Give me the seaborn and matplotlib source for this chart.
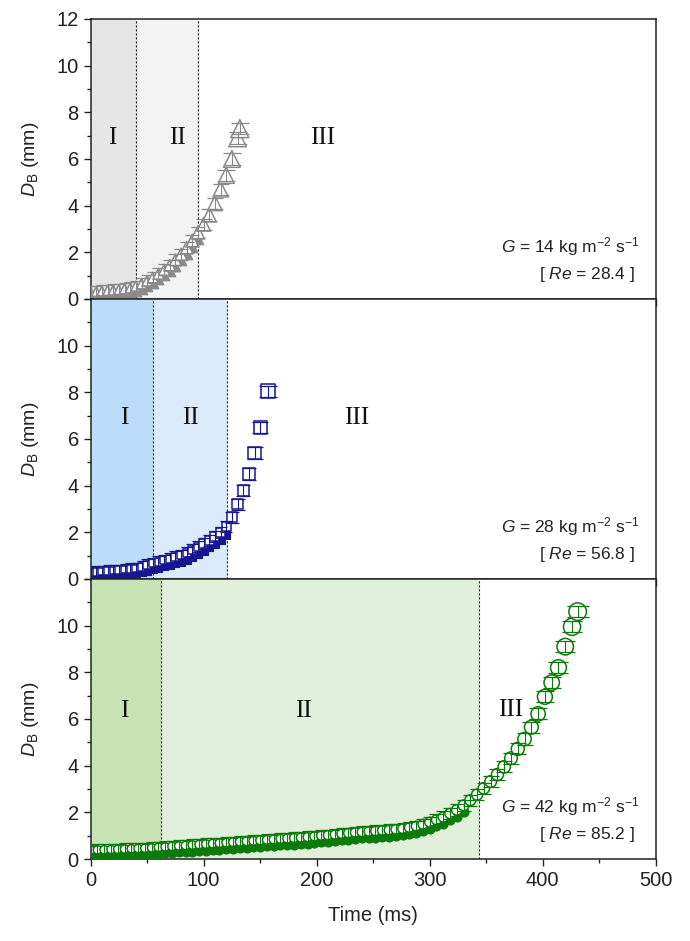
import matplotlib
matplotlib.use("Agg")
import matplotlib.pyplot as plt
import seaborn as sns
import pandas as pd
from matplotlib.ticker import MultipleLocator

sns.set_theme(style="ticks")
plt.rcParams["font.family"] = ["Liberation Sans", "DejaVu Sans"]
plt.rcParams["mathtext.fontset"] = "custom"
plt.rcParams["mathtext.rm"] = "Liberation Sans"
plt.rcParams["mathtext.it"] = "Liberation Sans:italic"
plt.rcParams["mathtext.bf"] = "Liberation Sans:bold"

# ---------------- data ----------------
# Panel 1: G = 14 (grey triangles)
t14 = [0, 5, 10, 15, 20, 25, 30, 35, 40, 45, 50, 55, 60, 65, 70, 75, 80, 85, 90, 95,
       100, 105, 110, 115, 120, 125, 130, 132]
d14 = [0.30, 0.32, 0.34, 0.36, 0.38, 0.40, 0.43, 0.47, 0.55, 0.65, 0.78, 0.92, 1.08, 1.25,
       1.45, 1.68, 1.92, 2.20, 2.50, 2.85, 3.20, 3.60, 4.10, 4.70, 5.30, 6.00, 6.90, 7.30]
t14_low = [0, 5, 10, 15, 20, 25, 30, 35, 40, 45, 50, 55, 60, 65, 70, 75, 80, 85, 90, 95]
d14_low = [0.10, 0.11, 0.12, 0.14, 0.16, 0.18, 0.21, 0.25, 0.32, 0.42, 0.55, 0.69, 0.85,
           1.02, 1.21, 1.43, 1.66, 1.93, 2.22, 2.55]

# Panel 2: G = 28 (blue squares)
t28 = [0, 5, 10, 15, 20, 25, 30, 35, 40, 45, 50, 55, 60, 65, 70, 75, 80, 85, 90, 95,
       100, 105, 110, 115, 120, 125, 130, 135, 140, 145, 150, 157]
d28 = [0.28, 0.30, 0.32, 0.34, 0.36, 0.38, 0.40, 0.43, 0.46, 0.52, 0.60, 0.68, 0.74, 0.80,
       0.87, 0.95, 1.02, 1.12, 1.24, 1.38, 1.52, 1.66, 1.82, 1.98, 2.25, 2.65, 3.20, 3.80,
       4.50, 5.40, 6.50, 8.05]
t28_low = [0, 5, 10, 15, 20, 25, 30, 35, 40, 45, 50, 55, 60, 65, 70, 75, 80, 85, 90, 95,
           100, 105, 110, 115, 120]
d28_low = [0.08, 0.10, 0.12, 0.14, 0.16, 0.18, 0.20, 0.22, 0.25, 0.29, 0.35, 0.42, 0.48,
           0.54, 0.60, 0.67, 0.74, 0.83, 0.94, 1.07, 1.21, 1.35, 1.51, 1.68, 1.90]

# Panel 3: G = 42 (green circles)
t42 = [0, 6, 12, 18, 24, 30, 36, 42, 48, 54, 60, 66, 72, 78, 84, 90, 96, 102, 108, 114,
       120, 126, 132, 138, 144, 150, 156, 162, 168, 174, 180, 186, 192, 198, 204, 210,
       216, 222, 228, 234, 240, 246, 252, 258, 264, 270, 276, 282, 288, 294, 300, 306,
       312, 318, 324, 330, 336, 342, 348, 354, 360, 366, 372, 378, 384, 390, 396, 402,
       408, 414, 420, 426, 431]
d42 = [0.38, 0.39, 0.40, 0.41, 0.42, 0.43, 0.44, 0.45, 0.46, 0.48, 0.50, 0.52, 0.54, 0.56,
       0.58, 0.60, 0.62, 0.64, 0.66, 0.68, 0.70, 0.72, 0.74, 0.76, 0.78, 0.80, 0.82, 0.84,
       0.86, 0.88, 0.90, 0.92, 0.94, 0.97, 1.00, 1.02, 1.05, 1.08, 1.11, 1.14, 1.16, 1.18,
       1.20, 1.22, 1.24, 1.27, 1.30, 1.35, 1.41, 1.49, 1.58, 1.68, 1.80, 1.95, 2.10, 2.30,
       2.52, 2.76, 3.03, 3.32, 3.62, 3.95, 4.32, 4.72, 5.14, 5.65, 6.22, 6.95, 7.56, 8.20,
       9.10, 9.95, 10.60]
t42_low = [0, 6, 12, 18, 24, 30, 36, 42, 48, 54, 60, 66, 72, 78, 84, 90, 96, 102, 108, 114,
           120, 126, 132, 138, 144, 150, 156, 162, 168, 174, 180, 186, 192, 198, 204, 210,
           216, 222, 228, 234, 240, 246, 252, 258, 264, 270, 276, 282, 288, 294, 300, 306,
           312, 318, 324, 330]
d42_low = [0.10, 0.11, 0.12, 0.13, 0.14, 0.15, 0.16, 0.17, 0.18, 0.20, 0.22, 0.24, 0.26,
           0.28, 0.30, 0.32, 0.34, 0.36, 0.38, 0.40, 0.42, 0.44, 0.46, 0.48, 0.50, 0.52,
           0.54, 0.56, 0.58, 0.60, 0.62, 0.64, 0.66, 0.69, 0.72, 0.74, 0.77, 0.80, 0.83,
           0.86, 0.88, 0.90, 0.92, 0.94, 0.96, 0.99, 1.02, 1.07, 1.13, 1.21, 1.30, 1.40,
           1.52, 1.67, 1.82, 2.02]

stage_bounds = [(40, 95), (55, 121), (62, 344)]
g_labels = ["14", "28", "42"]
re_labels = ["28.4", "56.8", "85.2"]
stage_names = ["I", "II", "III"]
yerr_mm = 0.24

# ---------------- styling ----------------
panels = [
    dict(t=t14, d=d14, tl=t14_low, dl=d14_low, marker="^", col="#8a8a8a",
         shade=("#e6e6e6", "#f3f3f3"), mscale=1.4,
         roman=[(19, 6.9), (77, 6.9), (205, 6.9)]),
    dict(t=t28, d=d28, tl=t28_low, dl=d28_low, marker="s", col="#16168f",
         shade=("#bddcf8", "#dcebfc"), mscale=0.8,
         roman=[(30, 6.9), (88, 6.9), (235, 6.9)]),
    dict(t=t42, d=d42, tl=t42_low, dl=d42_low, marker="o", col="#0b7a0b",
         shade=("#c7e3b6", "#e1f0da"), mscale=1.0,
         roman=[(30, 6.35), (188, 6.35), (372, 6.4)]),
]

fig = plt.figure(figsize=(6.9, 9.41), dpi=100)
L, W, H = 0.1314, 0.8188, 0.29756
bottoms = [0.6823, 0.3847, 0.08714]

for i, p in enumerate(panels):
    ax = fig.add_axes([L, bottoms[i], W, H])
    b1, b2 = stage_bounds[i]
    ax.axvspan(0, b1, color=p["shade"][0], lw=0, zorder=0)
    ax.axvspan(b1, b2, color=p["shade"][1], lw=0, zorder=0)
    for b in (b1, b2):
        ax.axvline(b, color="#222222", ls=(0, (2, 1.6)), lw=0.8, zorder=1)

    col = p["col"]
    # dense lower cluster (appears solid)
    sns.scatterplot(x=p["tl"], y=p["dl"], marker=p["marker"], color=col, edgecolor=col,
                    s=42 * p["mscale"], linewidth=0.8, ax=ax, legend=False, zorder=3)

    df = pd.DataFrame({"t": p["t"], "d": p["d"]})
    sizes = (30 * p["mscale"], 165 * p["mscale"])
    # error bars with caps scaled to marker width
    for tt, dd in zip(p["t"], p["d"]):
        area = sizes[0] + (sizes[1] - sizes[0]) * dd / 11.0
        cap = (area ** 0.5) * (0.85 if p["marker"] == "^" else 1.0) + 2.5
        ax.errorbar(tt, dd, yerr=yerr_mm, fmt="none", ecolor=col, elinewidth=0.8,
                    capsize=cap / 2, capthick=0.9, zorder=5)
    sns.scatterplot(data=df, x="t", y="d", size="d", sizes=sizes, size_norm=(0, 11),
                    marker=p["marker"], color="white", edgecolor=col, linewidth=1.1,
                    ax=ax, legend=False, zorder=4)

    for (rx, ry), name in zip(p["roman"], stage_names):
        ax.text(rx, ry, name, family="Liberation Serif", fontsize=18,
                ha="center", va="center", color="#111111", zorder=6)

    ax.text(486, 2.25, r"$G$ = " + g_labels[i] + r" kg m$^{-2}$ s$^{-1}$",
            ha="right", va="center", fontsize=12.5, color="#222222", zorder=6)
    ax.text(482, 1.05, r"[ $Re$ = " + re_labels[i] + " ]",
            ha="right", va="center", fontsize=12.5, color="#222222", zorder=6)

    ax.set_xlim(0, 500)
    ax.set_ylim(0, 12)
    ax.set_yticks([0, 2, 4, 6, 8, 10, 12])
    if i == 0:
        ax.set_yticklabels(["0", "2", "4", "6", "8", "10", "12"])
    else:
        ax.set_yticklabels(["0", "2", "4", "6", "8", "10", ""])
    ax.yaxis.set_minor_locator(MultipleLocator(1))
    ax.set_xticks([0, 100, 200, 300, 400, 500])
    ax.xaxis.set_minor_locator(MultipleLocator(50))
    ax.tick_params(which="major", direction="out", length=5, width=1.0,
                   labelsize=14.5, colors="#222222")
    ax.tick_params(which="minor", direction="out", length=3, width=1.0, colors="#222222")
    ax.set_ylabel(r"$D_{\mathrm{B}}$ (mm)", fontsize=14, color="#222222")
    ax.yaxis.set_label_coords(-0.088, 0.5)
    for s in ax.spines.values():
        s.set_linewidth(1.1)
        s.set_color("#222222")
    if i < 2:
        ax.tick_params(axis="x", which="both", labelbottom=False)
        ax.set_xlabel("")
    else:
        ax.set_xlabel("Time (ms)", fontsize=14.5, color="#222222", labelpad=12)

fig.savefig("out.png", dpi=100)
